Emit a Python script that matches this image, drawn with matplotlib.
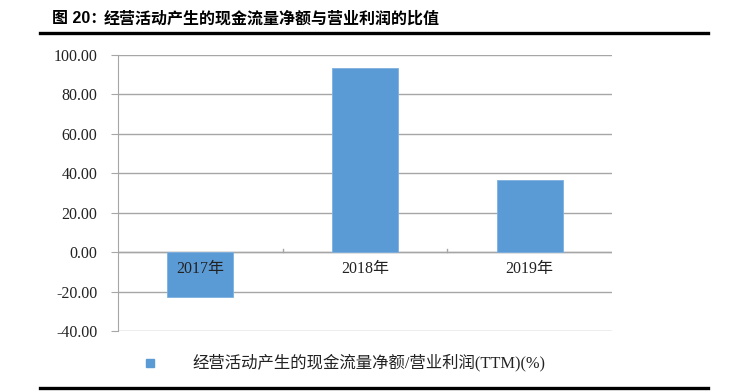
import matplotlib
matplotlib.use("Agg")
import matplotlib.pyplot as plt
from matplotlib.patches import Rectangle
from matplotlib.lines import Line2D

categories = ["2017年", "2018年", "2019年"]
values = [-23.0, 93.5, 36.5]
yticks = [-40, -20, 0, 20, 40, 60, 80, 100]
title = "图 20：经营活动产生的现金流量净额与营业利润的比值"
legend_label = "经营活动产生的现金流量净额/营业利润(TTM)(%)"

plt.rcParams['font.family'] = ['Liberation Serif', 'Noto Sans CJK SC', 'DejaVu Sans']

W, H = 730, 392
fig = plt.figure(figsize=(W/100, H/100), dpi=100)
ax = fig.add_axes([118/W, 1-331/H, (612-118)/W, (331-55)/H])

bar_color = "#5b9bd5"
grid_color = "#a6a6a6"
x = list(range(len(categories)))
ax.bar(x, values, width=0.4, color=bar_color, edgecolor="#7fb0df", linewidth=0.6, zorder=3)
ax.set_xlim(-0.5, len(categories)-0.5)
ax.set_ylim(-40, 100)
ax.set_yticks(yticks)
ax.set_yticklabels([f"{v:.2f}" for v in yticks], fontsize=11.5, color="#222222")
ax.grid(axis="y", color=grid_color, linewidth=1.0, zorder=0)
ax.axhline(0, color=grid_color, linewidth=1.0, zorder=2)
for s in ["top", "right", "bottom"]:
    ax.spines[s].set_visible(False)
ax.spines["left"].set_color(grid_color)
ax.tick_params(axis="y", length=5, color=grid_color, pad=10)
ax.set_xticks([])
# category boundary ticks on zero line
for b in [0.5, 1.5]:
    ax.plot([b, b], [0, 1.5], color=grid_color, linewidth=1.0, zorder=2)
for xi, c in zip(x, categories):
    ax.text(xi, -8.5, c, ha="center", va="center", fontsize=11.5, color="#222222", zorder=4)

# title and rules
fig.text(52/W, 1-19/H, "图 20：", fontsize=11.5, fontweight="bold",
         family=["Liberation Sans", "Noto Sans CJK SC"], va="center", ha="left")
fig.text(104/W, 1-19/H, title.split("：", 1)[1], fontsize=11.5, fontweight="bold",
         family=["Noto Sans CJK SC"], va="center", ha="left")
fig.add_artist(Line2D([40/W, 708/W], [1-33/H, 1-33/H], color="black", linewidth=2.4))
fig.add_artist(Line2D([40/W, 708/W], [1-388/H, 1-388/H], color="black", linewidth=2.4))

# legend
fig.add_artist(Rectangle((146/W, 1-367/H), 8/W, 8/H, color=bar_color))
fig.text(192/W, 1-363/H, legend_label, fontsize=11.8, va="center", ha="left", color="#222222")

fig.savefig("out.png", dpi=100)
